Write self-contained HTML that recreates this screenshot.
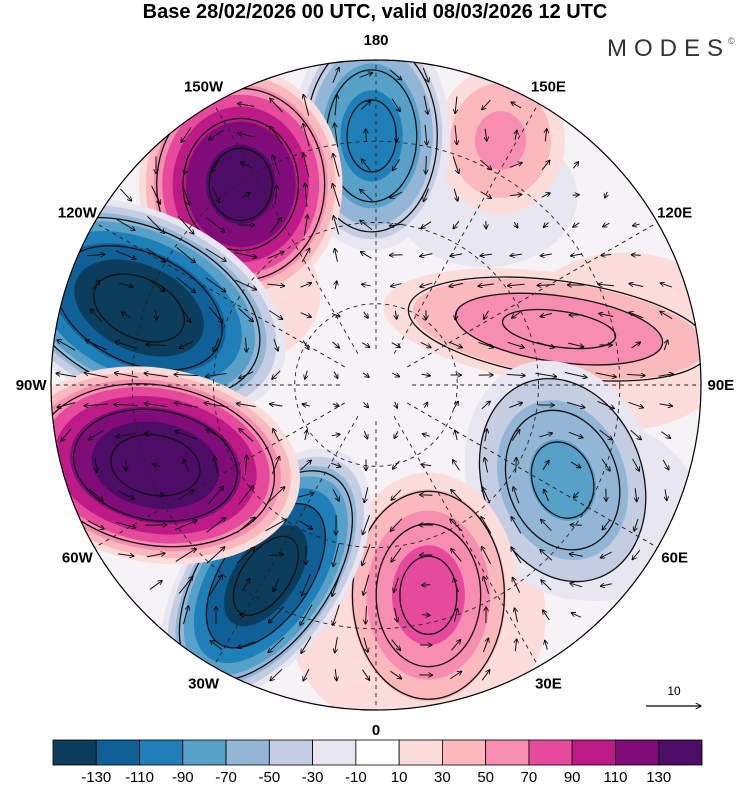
<!DOCTYPE html>
<html><head><meta charset="utf-8">
<style>
html,body{margin:0;padding:0;background:#fff;}
body{width:750px;height:783px;overflow:hidden;font-family:"Liberation Sans",sans-serif;}
svg text{font-family:"Liberation Sans",sans-serif;}
</style></head>
<body>
<svg id="chart" width="750" height="783" viewBox="0 0 750 783" xmlns="http://www.w3.org/2000/svg">
<defs>
<clipPath id="disc"><circle cx="376" cy="385" r="325"/></clipPath>
<marker id="ah" viewBox="0 0 10 10" refX="9" refY="5" markerWidth="5" markerHeight="5" orient="auto"><path d="M0,0 L10,5 L0,10" fill="none" stroke="#000" stroke-width="1.6"/></marker>
</defs>
<text x="375" y="18" text-anchor="middle" font-size="20" font-weight="bold">Base 28/02/2026 00 UTC, valid 08/03/2026 12 UTC</text>
<text x="607" y="56" font-size="24" fill="#333" letter-spacing="7" font-weight="300">MODES</text>
<text x="728" y="44" font-size="9" fill="#555">©</text>
<g id="field" clip-path="url(#disc)"></g>
<g id="grid" clip-path="url(#disc)"></g>
<g id="wind" clip-path="url(#disc)"></g>
<circle cx="376" cy="385" r="325" fill="none" stroke="#000" stroke-width="1.2"/>
<g id="lonlabels"></g>
<g>
<line x1="646" y1="706" x2="701" y2="706" stroke="#000" stroke-width="1.2" marker-end="url(#ah)"/>
<text x="674" y="695" font-size="12" text-anchor="middle">10</text>
</g>
<g id="cbar"></g>
</svg>
<script>
// ---- data ----
const levels = [-130,-110,-90,-70,-50,-30,-10,10,30,50,70,90,110,130];
const colors = ["#0c3d5c","#0e6097","#1f7fb8","#57a0c8","#93b6d6","#c5cde2","#e8e6f1","#ffffff","#fddcdc","#fbb8bd","#f78db0","#e64a9c","#bd1a87","#7f0c78","#4d0c66"];
const lonLabels = ["180","150E","120E","90E","60E","30E","0","30W","60W","90W","120W","150W"];
const lonValues = [180,150,120,90,60,30,0,-30,-60,-90,-120,-150];
// anomaly centres (lon deg, lat deg) and amplitudes
const blobLon = [-120,150,-100,100,60,10,-146,-179,153,-108,-70,-30,14,63,107];
const blobLat = [40,30,45,20,20,25,23,21,14,21,25,29,30,32,37];
const blobAmp = [15,-22,-15,25,-20,25,140,-100,55,-150,150,-145,78,-75,66];
// shape (outer radius px, rotation) per blob
const blobSx = [160,120,100,140,140,160,105,82,70,160,150,80,95,100,190];
const blobSy = [120,90,80,110,120,150,120,120,80,100,100,150,130,130,60];
const blobRot = [0,0,0,0,0,0,0,0,0,25,10,35,0,-20,8];

const NS="http://www.w3.org/2000/svg";
const CX=376, CY=385, R=325;
function proj(lon,lat){const r=R*(90-lat)/90;const a=lon*Math.PI/180;return [CX+r*Math.sin(a), CY+r*Math.cos(a)];}
function mk(tag,attrs,parent){const e=document.createElementNS(NS,tag);for(const k in attrs)e.setAttribute(k,attrs[k]);parent.appendChild(e);return e;}
function colorFor(t){const i=levels.indexOf(t); return t>0?colors[i+1]:colors[i];}
const field=document.getElementById('field');
const bg=mk('circle',{cx:CX,cy:CY,r:R,fill:'#f6f3f6'},field);


const order=blobAmp.map((a,i)=>i).sort((a,b)=>Math.abs(blobAmp[a])-Math.abs(blobAmp[b]));
order.forEach(i=>{
  const A=blobAmp[i]; const [x,y]=proj(blobLon[i],blobLat[i]);
  const g=mk('g',{transform:`translate(${x},${y}) rotate(${blobRot[i]})`},field);
  
  
  const ts=levels.filter(t=>A>0?(t>0&&t<A):(t<0&&t>A));
  ts.sort((a,b)=>Math.abs(a)-Math.abs(b));
  ts.forEach(t=>{
    const f=Math.pow(1-t/A,0.42);
    const e=mk('ellipse',{cx:0,cy:0,rx:blobSx[i]*f,ry:blobSy[i]*f,fill:colorFor(t)},g);
    
    
  });
  if(Math.abs(A)>=60){
    [0.3,0.55,0.8].forEach(f=>{
      const e=mk('ellipse',{cx:0,cy:0,rx:blobSx[i]*f,ry:blobSy[i]*f,fill:'none',stroke:'#111','stroke-width':1.3},g);
      
      
    });
  }
});
const grid=document.getElementById('grid');
[25,50,75].forEach(k=>{const c=mk('circle',{cx:CX,cy:CY,r:R*k/100,fill:'none',stroke:'#222','stroke-width':0.9,'stroke-dasharray':'4,4'},grid);
});
lonValues.forEach(l=>{const [x,y]=proj(l,0);const [x0,y0]=proj(l,80);
const ln=mk('line',{x1:x0,y1:y0,x2:x,y2:y,stroke:'#222','stroke-width':0.9,'stroke-dasharray':'4,4'},grid);
});
function val(px,py){let s=0;blobAmp.forEach((A,i)=>{const [x,y]=proj(blobLon[i],blobLat[i]);const a=-blobRot[i]*Math.PI/180;
const dx=px-x,dy=py-y;const u=(dx*Math.cos(a)-dy*Math.sin(a))/(blobSx[i]*0.55),v=(dx*Math.sin(a)+dy*Math.cos(a))/(blobSy[i]*0.55);
s+=A*Math.exp(-(u*u+v*v)/2);});return s;}
const wind=document.getElementById('wind');
for(let y=CY-R+15;y<CY+R;y+=30){for(let x=CX-R+15;x<CX+R;x+=30){
  const d=Math.hypot(x-CX,y-CY); if(d>R-8)continue;
  const gx=(val(x+2,y)-val(x-2,y))/4, gy=(val(x,y+2)-val(x,y-2))/4;
  let u=-gy, v=gx; const m=Math.hypot(u,v); if(m<0.02)continue;
  const L=Math.min(24,6+m*9); u/=m; v/=m;
  const a=mk('line',{x1:x-u*L/2,y1:y-v*L/2,x2:x+u*L/2,y2:y+v*L/2,stroke:'#111','stroke-width':1,'marker-end':'url(#ah)'},wind);
  
}}
const ll=document.getElementById('lonlabels');
lonValues.forEach((l,i)=>{const [x,y]=proj(l,-5.5);
const t=mk('text',{x:x,y:y+5,'font-size':15,'font-weight':'bold','text-anchor':'middle'},ll);t.textContent=lonLabels[i];
});
const cb=document.getElementById('cbar');const X0=53,X1=702,W=(X1-X0)/colors.length;
colors.forEach((c,i)=>{const r=mk('rect',{x:X0+i*W,y:740,width:W,height:25,fill:c,stroke:'#000','stroke-width':0.8},cb);
});
levels.forEach((l,i)=>{const t=mk('text',{x:X0+(i+1)*W,y:782,'font-size':15,'text-anchor':'middle'},cb);t.textContent=l;
});
</script>
</body></html>
